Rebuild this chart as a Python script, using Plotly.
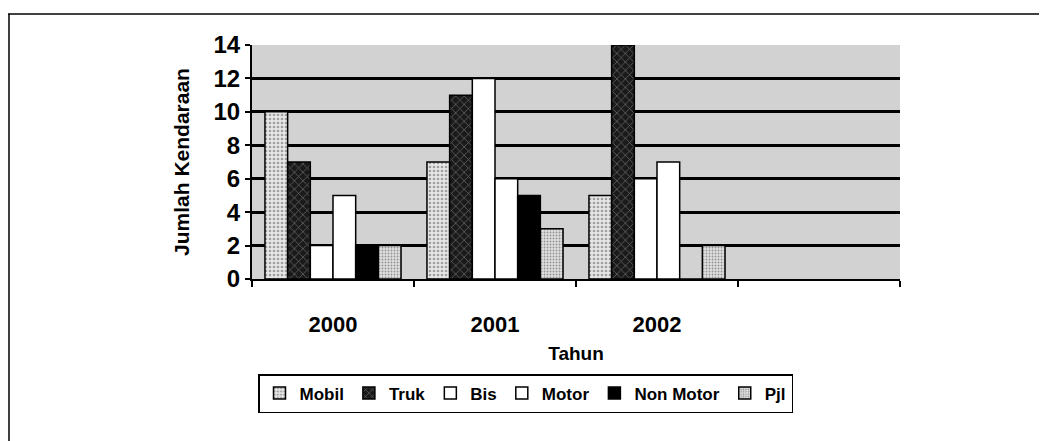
import plotly.graph_objects as go

years = ["2000", "2001", "2002", " "]
series = ["Mobil", "Truk", "Bis", "Motor", "Non Motor", "Pjl"]
mobil = [10, 7, 5, None]
truk = [7, 11, 14, None]
bis = [2, 12, 6, None]
motor = [5, 6, 7, None]
non_motor = [2, 5, 0, None]
pjl = [2, 3, 2, None]
values = [mobil, truk, bis, motor, non_motor, pjl]
y_ticks = [0, 2, 4, 6, 8, 10, 12, 14]
grid_vals = [2, 4, 6, 8, 10, 12]

styles = [
    dict(color="#e6e6e6", pattern=dict(shape=".", fgcolor="#555555", bgcolor="#e6e6e6", size=4, solidity=0.35)),
    dict(color="#222222", pattern=dict(shape="x", fgcolor="#aaaaaa", bgcolor="#1a1a1a", size=6, solidity=0.25)),
    dict(color="white"),
    dict(color="white"),
    dict(color="black"),
    dict(color="#d0d0d0", pattern=dict(shape=".", fgcolor="#444444", bgcolor="#e0e0e0", size=3, solidity=0.3)),
]

fig = go.Figure()
for name, vals, st in zip(series, values, styles):
    marker = dict(color=st["color"], line=dict(color="black", width=1.5))
    if "pattern" in st:
        marker["pattern"] = st["pattern"]
    fig.add_trace(go.Bar(name=name, x=years, y=vals, marker=marker))

# invisible trace on an overlay axis to carry the grid lines
fig.add_trace(go.Scatter(x=years, y=[None] * 4, yaxis="y2", showlegend=False, hoverinfo="skip"))

# page has an 8px body margin, so the figure is placed 8px in from the window edge
OFF = 8
W, H = 1047 - OFF, 441 - OFF
L, T = 252 - OFF, 45 - OFF
R = W - (900 - OFF)
B = H - (279 - OFF)
pw, ph = W - L - R, H - T - B

def px(x):
    return (x - OFF - L) / pw

def py(y):
    return (H - B - (y - OFF)) / ph

fig.update_layout(
    width=W, height=H,
    margin=dict(l=L, r=R, t=T, b=B),
    paper_bgcolor="white",
    plot_bgcolor="#d2d2d2",
    font=dict(family="Liberation Sans, Arial, sans-serif", color="black", weight="bold"),
    barmode="group",
    bargap=0.16,
    bargroupgap=0,
    xaxis=dict(
        type="category",
        categoryorder="array", categoryarray=years,
        showline=True, linecolor="black", linewidth=2,
        ticks="outside", ticklen=6, tickwidth=2, tickcolor="black",
        tickson="boundaries",
        showgrid=False,
        tickfont=dict(size=22, weight="bold"),
        ticklabelstandoff=25,
        title=dict(text="Tahun", font=dict(size=19, weight="bold"), standoff=10),
    ),
    yaxis=dict(
        range=[0, 14],
        tickvals=y_ticks,
        showline=True, linecolor="black", linewidth=2,
        ticks="outside", ticklen=5, tickwidth=2, tickcolor="black",
        showgrid=False, zeroline=False,
        tickfont=dict(size=24, weight="bold"),
        title=dict(text="Jumlah Kendaraan", font=dict(size=21, weight="bold"), standoff=18),
    ),
    yaxis2=dict(
        overlaying="y", range=[0, 14], tickvals=grid_vals,
        showgrid=True, gridcolor="black", gridwidth=2.5,
        showticklabels=False, zeroline=False, showline=False,
        layer="below traces",
    ),
    legend=dict(
        orientation="h",
        x=px(258), y=py(374), xanchor="left", yanchor="top",
        bordercolor="black", borderwidth=1.5,
        font=dict(size=17, weight="bold"),
        itemwidth=30,
        traceorder="normal",
    ),
    shapes=[
        dict(type="line", xref="paper", yref="paper", x0=px(8), x1=px(1047), y0=py(14), y1=py(14),
             line=dict(color="black", width=1.5)),
        dict(type="line", xref="paper", yref="paper", x0=px(9), x1=px(9), y0=py(14), y1=py(441),
             line=dict(color="black", width=1.5)),
    ],
)

fig.write_html("out.html")
